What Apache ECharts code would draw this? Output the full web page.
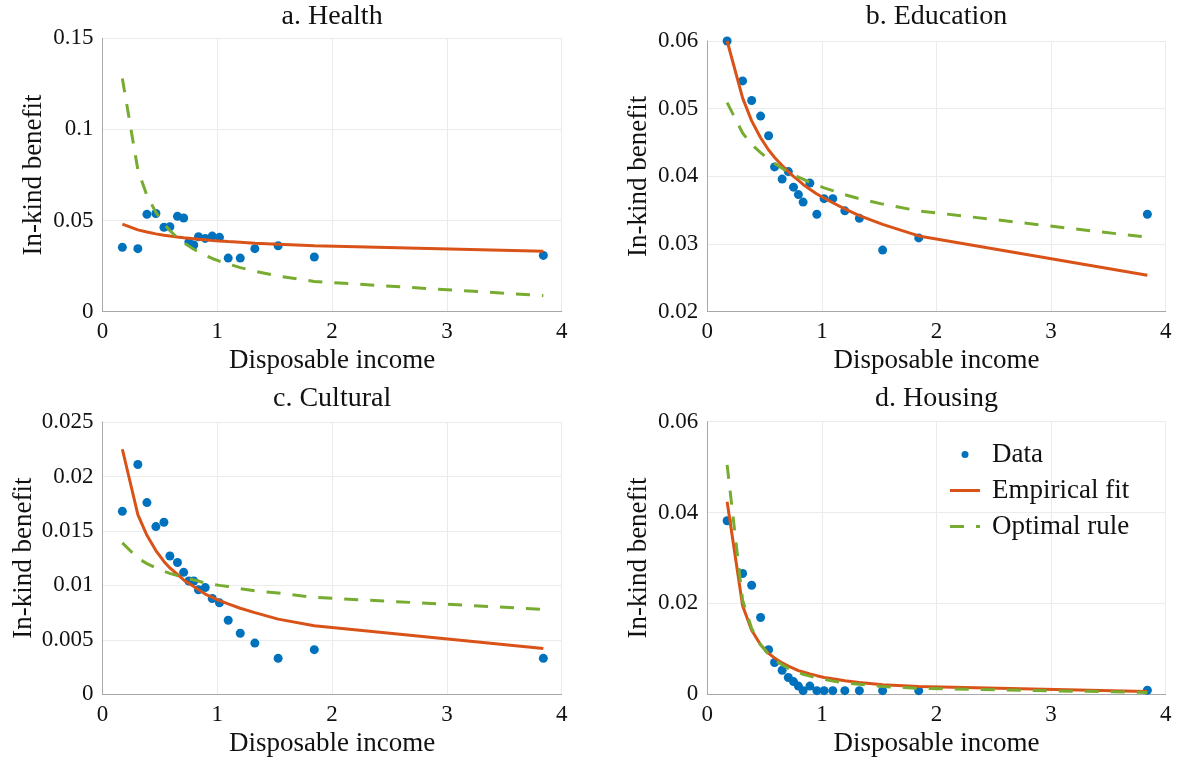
<!DOCTYPE html>
<html>
<head>
<meta charset="utf-8">
<title>In-kind benefits and disposable income</title>
<script src="https://cdn.jsdelivr.net/npm/echarts@6/dist/echarts.min.js"></script>
<style>
  html, body { margin: 0; padding: 0; background: #ffffff; }
  #chart { width: 1177px; height: 761px; }
</style>
</head>
<body>
<div id="chart"></div>
<script>
// Disposable income at each income group (shared by all four panels)
const incomeX = [0.173, 0.308, 0.387, 0.465, 0.535, 0.587, 0.653, 0.707, 0.752, 0.795,
                 0.836, 0.895, 0.956, 1.019, 1.095, 1.2, 1.327, 1.53, 1.845, 3.84];

// a. Health
const healthData = [0.0353, 0.0346, 0.0534, 0.0539, 0.0463, 0.0466, 0.0523, 0.0514, 0.0382, 0.0366,
                    0.0411, 0.0402, 0.0415, 0.0408, 0.0294, 0.0294, 0.0346, 0.0362, 0.0300, 0.0309];
const healthFit = [0.0481, 0.0449, 0.0437, 0.0427, 0.0420, 0.0415, 0.0410, 0.0406, 0.0403, 0.0400,
                   0.0398, 0.0395, 0.0391, 0.0388, 0.0385, 0.0381, 0.0376, 0.0370, 0.0362, 0.0331];
const healthOptimal = [0.1280, 0.0778, 0.0638, 0.0545, 0.0483, 0.0445, 0.0406, 0.0379, 0.0360, 0.0343,
                       0.0328, 0.0310, 0.0292, 0.0277, 0.0262, 0.0242, 0.0222, 0.0196, 0.0166, 0.0088];

// b. Education
const educationData = [0.0600, 0.0541, 0.0512, 0.0489, 0.0460, 0.0414, 0.0396, 0.0407, 0.0384, 0.0373,
                       0.0362, 0.0390, 0.0344, 0.0367, 0.0367, 0.0349, 0.0338, 0.0291, 0.0309, 0.0344];
const educationFit = [0.0600, 0.0516, 0.0482, 0.0457, 0.0439, 0.0428, 0.0416, 0.0407, 0.0400, 0.0394,
                      0.0388, 0.0381, 0.0374, 0.0368, 0.0361, 0.0352, 0.0342, 0.0329, 0.0312, 0.0254];
const educationOptimal = [0.0509, 0.0464, 0.0447, 0.0435, 0.0425, 0.0419, 0.0412, 0.0406, 0.0402, 0.0399,
                          0.0396, 0.0391, 0.0387, 0.0383, 0.0379, 0.0373, 0.0367, 0.0359, 0.0349, 0.0310];

// c. Cultural
const culturalData = [0.0168, 0.0211, 0.0176, 0.0154, 0.0158, 0.0127, 0.0121, 0.0112, 0.0104, 0.0104,
                      0.0096, 0.0098, 0.0088, 0.0084, 0.0068, 0.0056, 0.0047, 0.0033, 0.0041, 0.0033];
const culturalFit = [0.0225, 0.0165, 0.0146, 0.0132, 0.0122, 0.0116, 0.0110, 0.0105, 0.0102, 0.0099,
                     0.0096, 0.0092, 0.0089, 0.0086, 0.0083, 0.0079, 0.0075, 0.0069, 0.0063, 0.0042];
const culturalOptimal = [0.0139, 0.0125, 0.0120, 0.0116, 0.0113, 0.0111, 0.0109, 0.0107, 0.0106, 0.0105,
                         0.0104, 0.0102, 0.0101, 0.0100, 0.0099, 0.0097, 0.0095, 0.0093, 0.0089, 0.0078];

// d. Housing
const housingData = [0.0382, 0.0266, 0.0240, 0.0169, 0.0098, 0.0070, 0.0053, 0.0037, 0.0028, 0.0018,
                     0.0008, 0.0018, 0.0008, 0.0008, 0.0008, 0.0008, 0.0008, 0.0008, 0.0008, 0.0009];
const housingFit = [0.0424, 0.0195, 0.0141, 0.0109, 0.0090, 0.0080, 0.0069, 0.0062, 0.0057, 0.0052,
                    0.0049, 0.0045, 0.0041, 0.0037, 0.0034, 0.0030, 0.0026, 0.0021, 0.0017, 0.0006];
const housingOptimal = [0.0505, 0.0207, 0.0145, 0.0109, 0.0088, 0.0076, 0.0065, 0.0057, 0.0052, 0.0048,
                        0.0044, 0.0040, 0.0036, 0.0033, 0.0029, 0.0025, 0.0022, 0.0017, 0.0013, 0.0004];

// Panel titles and y-axis ranges
const panelTitles = ['a. Health', 'b. Education', 'c. Cultural', 'd. Housing'];
const yRanges = [
  { min: 0, max: 0.15, interval: 0.05 },
  { min: 0.02, max: 0.06, interval: 0.01 },
  { min: 0, max: 0.025, interval: 0.005 },
  { min: 0, max: 0.06, interval: 0.02 }
];
const xRange = { min: 0, max: 4, interval: 1 };
const seriesNames = ['Data', 'Empirical fit', 'Optimal rule'];

const panels = [
  [healthData, healthFit, healthOptimal],
  [educationData, educationFit, educationOptimal],
  [culturalData, culturalFit, culturalOptimal],
  [housingData, housingFit, housingOptimal]
];

const FONT = '"Liberation Serif", "Times New Roman", serif';
const TEXT = '#111111';
const BLUE = '#0072BD';
const ORANGE = '#D95319';
const GREEN = '#77AC30';

// Legend keys: a 30x7 box holding a 3px stroke (solid, and dashed 14 on / 12 off)
const SOLID_KEY = 'path://M0,-2M0,5M0,0H30V3H0Z';
const DASHED_KEY = 'path://M0,-2M0,5M0,0H14V3H0ZM26,0H30V3H26Z';

// Plot area rectangles in pixels
const gridBoxes = [
  { left: 102.5, top: 38.3, width: 459.2, height: 273.4 },
  { left: 707.3, top: 41, width: 458.4, height: 270.7 },
  { left: 102.5, top: 422, width: 459.2, height: 272.3 },
  { left: 707.3, top: 421.7, width: 458.4, height: 272.6 }
];
const yNameGaps = [55, 55, 65, 55];

const pairs = (ys) => incomeX.map((x, i) => [x, ys[i]]);
const fmt = (v) => String(+v.toFixed(4));

const option = {
  animation: false,
  backgroundColor: '#ffffff',
  textStyle: { fontFamily: FONT, color: TEXT },
  title: panelTitles.map((t, i) => ({
    text: t,
    left: gridBoxes[i].left + gridBoxes[i].width / 2,
    top: i < 2 ? 3 : 385,
    textAlign: 'center',
    padding: 0,
    textStyle: { fontFamily: FONT, fontSize: 28, fontWeight: 'normal', color: TEXT }
  })),
  legend: {
    orient: 'vertical',
    left: 950,
    top: 441,
    itemWidth: 30,
    itemHeight: 7,
    itemGap: 9,
    padding: 0,
    symbolKeepAspect: false,
    data: [
      { name: 'Data', icon: 'circle' },
      { name: 'Empirical fit', icon: SOLID_KEY, itemStyle: { color: ORANGE } },
      { name: 'Optimal rule', icon: DASHED_KEY, itemStyle: { color: GREEN } }
    ],
    textStyle: { fontFamily: FONT, fontSize: 27, color: TEXT, lineHeight: 26, padding: [0, 0, 0, 7] }
  },
  grid: gridBoxes.map(b => Object.assign({ containLabel: false }, b)),
  xAxis: gridBoxes.map((b, i) => ({
    type: 'value',
    gridIndex: i,
    min: xRange.min,
    max: xRange.max,
    interval: xRange.interval,
    name: 'Disposable income',
    nameLocation: 'middle',
    nameGap: 36,
    nameTextStyle: { fontFamily: FONT, fontSize: 27, color: TEXT },
    axisLine: { show: true, lineStyle: { color: '#a8a8a8', width: 1 } },
    axisTick: { show: false },
    axisLabel: { fontFamily: FONT, fontSize: 23, color: TEXT, margin: 9 },
    splitLine: { show: true, lineStyle: { color: '#ebebeb', width: 1 } }
  })),
  yAxis: gridBoxes.map((b, i) => ({
    type: 'value',
    gridIndex: i,
    min: yRanges[i].min,
    max: yRanges[i].max,
    interval: yRanges[i].interval,
    name: 'In-kind benefit',
    nameLocation: 'middle',
    nameGap: yNameGaps[i],
    nameTextStyle: { fontFamily: FONT, fontSize: 27, color: TEXT },
    axisLine: { show: true, lineStyle: { color: '#a8a8a8', width: 1 } },
    axisTick: { show: false },
    axisLabel: { fontFamily: FONT, fontSize: 23, color: TEXT, margin: 9, formatter: fmt },
    splitLine: { show: true, lineStyle: { color: '#ebebeb', width: 1 } }
  })),
  series: []
};

panels.forEach((p, i) => {
  option.series.push({
    name: seriesNames[0],
    type: 'scatter',
    xAxisIndex: i,
    yAxisIndex: i,
    symbol: 'circle',
    symbolSize: 9,
    itemStyle: { color: BLUE, opacity: 1 },
    data: pairs(p[0])
  });
  option.series.push({
    name: seriesNames[1],
    type: 'line',
    xAxisIndex: i,
    yAxisIndex: i,
    symbol: 'none',
    itemStyle: { color: ORANGE },
    lineStyle: { color: ORANGE, width: 3 },
    data: pairs(p[1])
  });
  option.series.push({
    name: seriesNames[2],
    type: 'line',
    xAxisIndex: i,
    yAxisIndex: i,
    symbol: 'none',
    itemStyle: { color: GREEN },
    lineStyle: { color: GREEN, width: 3, type: [14, 12] },
    data: pairs(p[2])
  });
});

const chart = echarts.init(document.getElementById('chart'), null, { renderer: 'canvas' });
chart.setOption(option);
</script>
</body>
</html>
